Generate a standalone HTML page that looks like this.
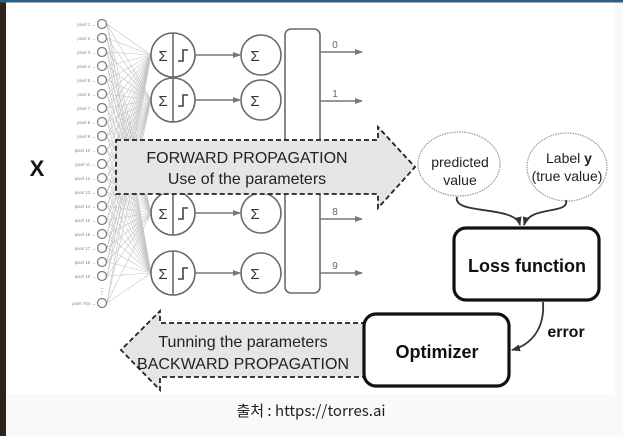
<!DOCTYPE html>
<html><head><meta charset="utf-8"><style>
html,body{margin:0;padding:0;width:623px;height:436px;overflow:hidden;background:#fafafa}
svg{display:block}
text{font-family:"Liberation Sans",Arial,sans-serif}
</style></head><body>
<svg width="623" height="436" viewBox="0 0 623 436" xmlns="http://www.w3.org/2000/svg">
<defs>
<marker id="ag" markerWidth="8" markerHeight="8" refX="7" refY="4" orient="auto" markerUnits="userSpaceOnUse"><path d="M0,1 L8,4 L0,7 Z" fill="#777"/></marker>
<marker id="ak" markerWidth="9" markerHeight="9" refX="8" refY="4.5" orient="auto" markerUnits="userSpaceOnUse"><path d="M0,1 L9,4.5 L0,8 Z" fill="#333"/></marker>
</defs>
<rect x="0" y="0" width="623" height="436" fill="#f9f9f9"/>
<rect x="6" y="2" width="608" height="392" fill="#ffffff"/>
<rect x="0" y="0" width="6" height="436" fill="#2e2418"/>
<rect x="0" y="0" width="623" height="2.5" fill="#2b5f86"/>
<g id="fan" stroke="#c4c4c4" stroke-width="0.6"></g>
<g id="inputs"></g>
<g stroke="#6a6a6a" stroke-width="1.6" fill="#fff">
<circle cx="173" cy="55" r="22"/><circle cx="173" cy="100" r="22"/><circle cx="173" cy="213" r="22"/><circle cx="173" cy="273" r="22"/>
<line x1="173" y1="33" x2="173" y2="77"/><line x1="173" y1="78" x2="173" y2="122"/><line x1="173" y1="191" x2="173" y2="235"/><line x1="173" y1="251" x2="173" y2="295"/>
<circle cx="261" cy="55" r="20"/><circle cx="261" cy="100" r="20"/><circle cx="261" cy="213" r="20"/><circle cx="261" cy="273" r="20"/>
<rect x="285" y="29" width="35" height="264" rx="6"/>
</g>
<g fill="none" stroke="#444" stroke-width="1.6">
<path d="M178,61 h5 v-11 h5"/><path d="M178,106 h5 v-11 h5"/><path d="M178,219 h5 v-11 h5"/><path d="M178,279 h5 v-11 h5"/>
</g>
<g font-size="15" fill="#333" text-anchor="middle">
<text x="163" y="61">Σ</text><text x="163" y="106">Σ</text><text x="163" y="219">Σ</text><text x="163" y="279">Σ</text>
<text x="255" y="61">Σ</text><text x="255" y="106">Σ</text><text x="255" y="219">Σ</text><text x="255" y="279">Σ</text>
</g>
<g stroke="#777" stroke-width="1.5" marker-end="url(#ag)">
<line x1="195" y1="55" x2="240" y2="55"/><line x1="195" y1="100" x2="240" y2="100"/><line x1="195" y1="213" x2="240" y2="213"/><line x1="195" y1="273" x2="240" y2="273"/>
<line x1="320" y1="52" x2="362" y2="52"/><line x1="320" y1="101" x2="362" y2="101"/><line x1="320" y1="219" x2="362" y2="219"/><line x1="320" y1="273" x2="362" y2="273"/>
</g>
<g font-size="10" fill="#666" text-anchor="middle">
<text x="335" y="48">0</text><text x="335" y="97">1</text><text x="335" y="215">8</text><text x="335" y="269">9</text>
</g>
<text x="37" y="176" font-size="22" font-weight="bold" text-anchor="middle" fill="#111">X</text>
<path d="M116,140 H378 V127 L415,167 L378,208 V194 H116 Z" fill="#e5e5e5" stroke="#222" stroke-width="1.8" stroke-dasharray="5,3"/>
<text x="247" y="163" font-size="16" text-anchor="middle" fill="#222">FORWARD PROPAGATION</text>
<text x="247" y="184" font-size="16" text-anchor="middle" fill="#222">Use of the parameters</text>
<ellipse cx="459" cy="164" rx="41" ry="32" fill="#fff" stroke="#999" stroke-width="1.2" stroke-dasharray="1.5,1"/>
<ellipse cx="567" cy="167" rx="40" ry="34" fill="#fff" stroke="#999" stroke-width="1.2" stroke-dasharray="1.5,1"/>
<text x="460" y="167" font-size="14" text-anchor="middle" fill="#222">predicted</text>
<text x="460" y="185" font-size="14" text-anchor="middle" fill="#222">value</text>
<text x="569" y="163" font-size="14" text-anchor="middle" fill="#222">Label <tspan font-weight="bold">y</tspan></text>
<text x="567" y="181" font-size="14" text-anchor="middle" fill="#222">(true value)</text>
<path d="M457,197 C452,215 515,205 520,225" fill="none" stroke="#333" stroke-width="1.8" marker-end="url(#ak)"/>
<path d="M566,200 C570,215 530,205 524,225" fill="none" stroke="#333" stroke-width="1.8" marker-end="url(#ak)"/>
<rect x="454" y="228" width="145" height="72" rx="12" fill="#fff" stroke="#111" stroke-width="3.2"/>
<text x="527" y="272" font-size="18" font-weight="bold" text-anchor="middle" fill="#111">Loss function</text>
<path d="M366,323 H160 V311 L121,350 L160,390 V377 H366" fill="#e5e5e5" stroke="#222" stroke-width="1.8" stroke-dasharray="5,3"/>
<text x="243" y="347" font-size="16" text-anchor="middle" fill="#222">Tunning the parameters</text>
<text x="243" y="369" font-size="16" text-anchor="middle" fill="#222" textLength="212">BACKWARD PROPAGATION</text>
<rect x="364" y="314" width="145" height="72" rx="12" fill="#fff" stroke="#111" stroke-width="3.2"/>
<text x="437" y="358" font-size="18" font-weight="bold" text-anchor="middle" fill="#111">Optimizer</text>
<path d="M543,302 C545,330 530,345 512,350" fill="none" stroke="#333" stroke-width="1.8" marker-end="url(#ak)"/>
<text x="566" y="337" font-size="16" font-weight="bold" text-anchor="middle" fill="#111">error</text>
<text x="311" y="416" font-size="15" text-anchor="middle" fill="#222" style='font-family:"Noto Sans CJK KR","Liberation Sans",sans-serif'>출처 : https://torres.ai</text>
</svg>
<script>
var ys=[24,38,52,66,80,94,108,122,136,150,164,178,192,206,220,234,248,262,276,303];
var hs=[55,100,213,273];var ns="http://www.w3.org/2000/svg";
var fan=document.getElementById('fan'),inp=document.getElementById('inputs');
ys.forEach(function(y,i){hs.forEach(function(h){var l=document.createElementNS(ns,'line');l.setAttribute('x1',107);l.setAttribute('y1',y);l.setAttribute('x2',151);l.setAttribute('y2',h);fan.appendChild(l);});
var c=document.createElementNS(ns,'circle');c.setAttribute('cx',102);c.setAttribute('cy',y);c.setAttribute('r',4.5);c.setAttribute('fill','#fff');c.setAttribute('stroke','#777');c.setAttribute('stroke-width','1.2');inp.appendChild(c);
var t=document.createElementNS(ns,'text');t.setAttribute('x',96);t.setAttribute('y',y+2);t.setAttribute('font-size','4.5');t.setAttribute('fill','#888');t.setAttribute('text-anchor','end');t.textContent='pixel '+(i==19?784:i+1)+' →';inp.appendChild(t);});
var d=document.createElementNS(ns,'text');d.setAttribute('x',102);d.setAttribute('y',294);d.setAttribute('font-size','8');d.setAttribute('fill','#777');d.setAttribute('text-anchor','middle');d.textContent='⋮';inp.appendChild(d);
</script>
</body></html>
